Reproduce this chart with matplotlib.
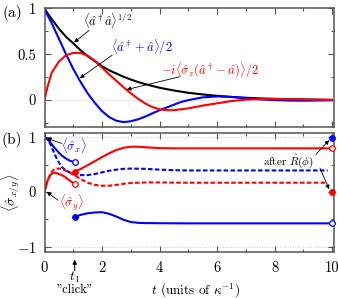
"""Cavity field and qubit expectation values before/after a click (two stacked panels)."""

import matplotlib

matplotlib.use("Agg")
import matplotlib.pyplot as plt
from matplotlib.ticker import FixedLocator

plt.rcParams["font.family"] = ["cmr10", "DejaVu Serif"]
plt.rcParams["mathtext.fontset"] = "cm"
plt.rcParams["axes.formatter.use_mathtext"] = True

# ---- panel (a): field moments ----
t_a = [0, 0.1, 0.25, 0.5, 0.75, 1.0, 1.25, 1.5, 1.75, 2.0, 2.25, 2.5, 2.75, 3.0,
       3.25, 3.5, 3.75, 4.0, 4.25, 4.5, 4.75, 5.0, 5.5, 6.0, 6.5, 7.0, 7.5, 8.0,
       8.5, 9.0, 9.5, 10.0]
n_sqrt = [1.0, 0.95, 0.885, 0.78, 0.69, 0.62, 0.545, 0.48, 0.425, 0.37, 0.325,
          0.29, 0.255, 0.225, 0.198, 0.175, 0.155, 0.135, 0.12, 0.105, 0.093,
          0.08, 0.062, 0.047, 0.035, 0.026, 0.019, 0.014, 0.01, 0.007, 0.005,
          0.003]
x_quad = [1.0, 0.93, 0.84, 0.67, 0.50, 0.34, 0.20, 0.075, -0.03, -0.12, -0.185,
          -0.225, -0.24, -0.23, -0.21, -0.18, -0.145, -0.11, -0.08, -0.05,
          -0.02, 0.0, 0.03, 0.04, 0.035, 0.02, 0.008, 0.0, -0.005, -0.006,
          -0.004, -0.002]
p_quad = [0.0, 0.14, 0.30, 0.42, 0.49, 0.515, 0.515, 0.485, 0.43, 0.355, 0.28,
          0.21, 0.14, 0.075, 0.015, -0.035, -0.075, -0.10, -0.11, -0.11, -0.10,
          -0.09, -0.06, -0.035, -0.01, 0.005, 0.012, 0.013, 0.01, 0.007, 0.004,
          0.002]

# ---- panel (b): qubit expectation values ----
t_click = 1.05
t_pre = [0, 0.1, 0.2, 0.3, 0.4, 0.5, 0.6, 0.7, 0.8, 0.9, 1.0, 1.05]
sx_pre = [1.0, 0.97, 0.91, 0.84, 0.78, 0.72, 0.67, 0.63, 0.595, 0.57, 0.555, 0.55]
sy_pre = [0.0, 0.2, 0.31, 0.35, 0.35, 0.33, 0.31, 0.28, 0.24, 0.20, 0.165, 0.15]

t_post = [1.05, 1.25, 1.5, 1.75, 2.0, 2.25, 2.5, 2.75, 3.0, 3.25, 3.5, 4.0, 4.5,
          5.0, 6.0, 7.0, 8.0, 9.0, 10.0]
sx_post = [-0.46, -0.42, -0.39, -0.375, -0.37, -0.40, -0.45, -0.51, -0.55,
           -0.565, -0.57, -0.572, -0.574, -0.575, -0.575, -0.575, -0.575,
           -0.575, -0.575]
sy_post = [0.37, 0.42, 0.49, 0.565, 0.64, 0.71, 0.77, 0.81, 0.83, 0.83, 0.82,
           0.805, 0.80, 0.80, 0.80, 0.80, 0.80, 0.80, 0.80]

t_avg = [0, 0.1, 0.2, 0.3, 0.4, 0.5, 0.6, 0.75, 1.0, 1.25, 1.5, 1.75, 2.0, 2.25,
         2.5, 2.75, 3.0, 3.5, 4.0, 4.5, 5.0, 6.0, 7.0, 8.0, 9.0, 9.85]
sx_avg = [1.0, 0.97, 0.88, 0.76, 0.64, 0.54, 0.46, 0.39, 0.33, 0.31, 0.31, 0.33,
          0.36, 0.39, 0.41, 0.425, 0.43, 0.425, 0.41, 0.40, 0.395, 0.395, 0.395,
          0.395, 0.395, 0.395]
sy_avg = [0.0, 0.2, 0.33, 0.40, 0.43, 0.43, 0.42, 0.39, 0.32, 0.24, 0.17, 0.13,
          0.115, 0.115, 0.13, 0.15, 0.165, 0.175, 0.175, 0.172, 0.17, 0.17, 0.17,
          0.17, 0.17, 0.17]

t_end = 10.0
sx_rot = 0.985
sy_rot = -0.005

BLUE = "#0000ff"
RED = "#ff0000"
FRAME = "#555555"


def style_axes(ax):
    for sp in ax.spines.values():
        sp.set_color(FRAME)
        sp.set_linewidth(1.1)
    ax.tick_params(which="both", direction="in", top=True, right=True,
                   color=FRAME, labelsize=10.5)
    ax.tick_params(which="major", length=4, width=0.8)
    ax.tick_params(which="minor", length=2.5, width=0.8)
    ax.tick_params(axis="y", pad=6)
    ax.tick_params(axis="x", pad=7)
    ax.set_xlim(0, 10.07)
    ax.xaxis.set_major_locator(FixedLocator([0, 2, 4, 6, 8, 10]))
    ax.xaxis.set_minor_locator(FixedLocator([1, 3, 5, 7, 9]))


fig = plt.figure(figsize=(3.38, 2.99), dpi=100)
ax_a = fig.add_axes([0.1317, 0.5753, 0.8565, 0.3979])
ax_b = fig.add_axes([0.1317, 0.1572, 0.8565, 0.3980])

# panel (a)
style_axes(ax_a)
ax_a.set_ylim(-0.293, 1.005)
ax_a.axhline(0, color="#c8c8c8", ls=":", lw=0.7, zorder=0)
ax_a.plot(t_a, n_sqrt, color="k", lw=1.5)
ax_a.plot(t_a, x_quad, color=BLUE, lw=1.5)
ax_a.plot(t_a, p_quad, color=RED, lw=1.5)
ax_a.yaxis.set_major_locator(FixedLocator([0, 0.5, 1]))
ax_a.yaxis.set_minor_locator(FixedLocator([-0.25, 0.25, 0.75]))
ax_a.set_yticklabels(["0", "0.5", "1"])
ax_a.set_xticklabels([])

arrow = dict(arrowstyle="-|>", color="k", lw=0.6, mutation_scale=6,
             shrinkA=0, shrinkB=0)
ax_a.text(2.2, 0.87, r"$\langle\hat{a}^\dagger\hat{a}\rangle^{1/2}$",
          color="k", fontsize=9, ha="center", va="center")
ax_a.annotate("", xy=(1.03, 0.63), xytext=(1.55, 0.76), arrowprops=arrow)
ax_a.text(3.4, 0.575, r"$\langle\hat{a}^\dagger+\hat{a}\rangle/2$",
          color=BLUE, fontsize=9, ha="center", va="center")
ax_a.annotate("", xy=(1.23, 0.24), xytext=(2.35, 0.49), arrowprops=arrow)
ax_a.text(5.75, 0.33, r"$-i\langle\hat{\sigma}_z(\hat{a}^\dagger-\hat{a})\rangle/2$",
          color=RED, fontsize=9, ha="center", va="center")
ax_a.annotate("", xy=(2.86, 0.115), xytext=(4.7, 0.255), arrowprops=arrow)
fig.text(12 / 338, 1 - 13 / 299, "(a)", fontsize=11, ha="center", va="center")

# panel (b)
style_axes(ax_b)
ax_b.set_ylim(-1.1, 1.082)
for yv in (-1, 1):
    ax_b.axhline(yv, color="#c8c8c8", ls=":", lw=0.7, zorder=0)
dash = (0, (2.2, 1.1))
ax_b.plot(t_avg, sx_avg, color=BLUE, lw=1.5, ls=dash)
ax_b.plot(t_avg, sy_avg, color=RED, lw=1.5, ls=dash)
ax_b.plot(t_pre, sx_pre, color=BLUE, lw=1.5)
ax_b.plot(t_pre, sy_pre, color=RED, lw=1.5)
ax_b.plot(t_post, sx_post, color=BLUE, lw=1.5)
ax_b.plot(t_post, sy_post, color=RED, lw=1.5)

mk = dict(ms=4.0, mew=0.9, ls="none", zorder=5, clip_on=False)
ax_b.plot([t_pre[-1]], [sx_pre[-1]], "o", color=BLUE, mfc="white", **mk)
ax_b.plot([t_pre[-1]], [sy_pre[-1]], "o", color=RED, mfc="white", **mk)
ax_b.plot([t_post[0]], [sx_post[0]], "o", color=BLUE, **mk)
ax_b.plot([t_post[0]], [sy_post[0]], "o", color=RED, **mk)
ax_b.plot([t_post[-1]], [sx_post[-1]], "o", color=BLUE, mfc="white", **mk)
ax_b.plot([t_post[-1]], [sy_post[-1]], "o", color=RED, mfc="white", **mk)
ax_b.plot([t_end], [sx_rot], "o", color=BLUE, **mk)
ax_b.plot([t_end], [sy_rot], "o", color=RED, **mk)

ax_b.yaxis.set_major_locator(FixedLocator([-1, 0, 1]))
ax_b.yaxis.set_minor_locator(FixedLocator([-0.5, 0.5]))
ax_b.set_yticklabels([r"$-1$", "0", "1"])
ax_b.set_xticklabels(["0", "2", "4", "6", "8", "10"])
ax_b.set_ylabel(r"$\langle\hat{\sigma}_{x/y}\rangle$", fontsize=10)
ax_b.yaxis.set_label_coords(-0.078, 0.5)
ax_b.set_xlabel(r"$t$ (units of $\kappa^{-1}$)", fontsize=9.5)
ax_b.xaxis.set_label_coords(0.523, -0.255)

ax_b.text(1.02, 0.86, r"$\langle\hat{\sigma}_x\rangle$", color=BLUE,
          fontsize=9, ha="center", va="center")
ax_b.annotate("", xy=(0.08, 0.985), xytext=(0.6, 0.89), arrowprops=arrow)
ax_b.text(0.93, -0.19, r"$\langle\hat{\sigma}_y\rangle$", color=RED,
          fontsize=9, ha="center", va="center")
ax_b.annotate("", xy=(0.08, 0.0), xytext=(0.47, -0.15), arrowprops=arrow)
ax_b.text(8.5, 0.57, r"after $\hat{R}(\phi)$", color="k", fontsize=8,
          ha="center", va="center")
ax_b.annotate("", xy=(9.9, 0.95), xytext=(9.44, 0.69), arrowprops=arrow)
ax_b.annotate("", xy=(9.9, 0.05), xytext=(9.58, 0.44), arrowprops=arrow)

# click marker below the axis
ax_b.annotate("", xy=(t_click, -1.24), xytext=(t_click, -1.44),
              xycoords="data", arrowprops=dict(arrowstyle="-|>", color="k",
                                               lw=0.8, mutation_scale=6,
                                               shrinkA=0, shrinkB=0),
              annotation_clip=False)
fig.text((44.5 + t_click * 28.75) / 338, 1 - 277 / 299, r"$t_1$",
         fontsize=10, ha="center", va="center")
fig.text((44.5 + t_click * 28.75) / 338, 1 - 290 / 299, '"click"',
         fontsize=9, ha="center", va="center")
fig.text(12 / 338, 1 - 140 / 299, "(b)", fontsize=11, ha="center", va="center")

fig.savefig("out.png", dpi=100)
